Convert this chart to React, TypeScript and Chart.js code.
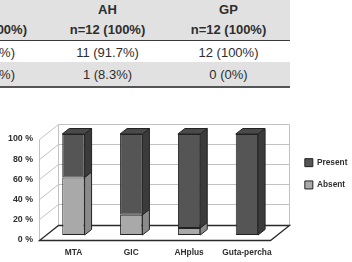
import React, { useEffect, useRef } from "react";
import { Chart, registerables } from "chart.js";

Chart.register(...registerables);

// ---- chart data ----
const categories = ["MTA", "GIC", "AHplus", "Guta-percha"];
const seriesNames = ["Absent", "Present"];
const absentValues = [57, 20, 7, 0];
const presentValues = [43, 80, 93, 100];
const yTickValues = [0, 20, 40, 60, 80, 100];
const yTickLabels = ["0 %", "20 %", "40 %", "60 %", "80 %", "100 %"];

// ---- table text ----
const tableGroups = ["AH", "GP"];
const tableTotals = ["n=12 (100%)", "n=12 (100%)"];
const tablePresentRow = ["11 (91.7%)", "12 (100%)"];
const tableAbsentRow = ["1 (8.3%)", "0 (0%)"];
const tableCutTotal = "00%)";
const tableCutRows = ["%)", "%)"];

// ---- styles ----
const FONT = "'Liberation Sans', Arial, Helvetica, sans-serif";
const TEXT = "#2e2e2e";
const faceColors = [
  { front: "#a9a9a9", side: "#8b8b8b", top: "#bdbdbd" },
  { front: "#555555", side: "#3b3b3b", top: "#4a4a4a" },
];
const WALL_DX = 19;
const WALL_DY = -15;
const FRONT_DX = -5.5;
const FRONT_DY = 4.5;
const BAR_DX = 7;
const BAR_DY = -5.5;

const threeD = {
  id: "threeD",
  beforeDatasetsDraw(chart: any) {
    const { ctx, chartArea: ca, scales } = chart;
    const y = scales.y;
    const r = (v: number) => Math.round(v) + 0.5;
    const fl = r(ca.left + FRONT_DX);
    const fr = r(ca.right + FRONT_DX);
    const yv = (v: number) => r(y.getPixelForValue(v) + FRONT_DY);
    const y0 = yv(0);
    const yTop = yv(100);
    ctx.save();
    ctx.strokeStyle = "#c2c2c2";
    ctx.lineWidth = 1;
    ctx.beginPath();
    for (const t of y.ticks) {
      if (t.value === 0) continue;
      const yy = yv(t.value);
      ctx.moveTo(fl, yy);
      ctx.lineTo(fl + WALL_DX, yy + WALL_DY);
      ctx.lineTo(fr + WALL_DX, yy + WALL_DY);
    }
    ctx.moveTo(fl, y0);
    ctx.lineTo(fl, yTop);
    ctx.moveTo(fl + WALL_DX, y0 + WALL_DY);
    ctx.lineTo(fl + WALL_DX, yTop + WALL_DY);
    ctx.moveTo(fr + WALL_DX, y0 + WALL_DY);
    ctx.lineTo(fr + WALL_DX, yTop + WALL_DY);
    ctx.stroke();
    // floor
    ctx.strokeStyle = "#2a2a2a";
    ctx.lineWidth = 1.3;
    ctx.beginPath();
    ctx.moveTo(fl, y0);
    ctx.lineTo(fr, y0);
    ctx.lineTo(fr + WALL_DX, y0 + WALL_DY);
    ctx.lineTo(fl + WALL_DX, y0 + WALL_DY);
    ctx.closePath();
    ctx.stroke();
    ctx.restore();
  },
  afterDatasetsDraw(chart: any) {
    const { ctx } = chart;
    ctx.save();
    ctx.lineWidth = 1;
    ctx.strokeStyle = "#222";
    for (let di = 0; di < chart.data.datasets.length; di++) {
      const meta = chart.getDatasetMeta(di);
      const col = faceColors[di];
      meta.data.forEach((el: any, i: number) => {
        const { x, y, base, width } = el.getProps(["x", "y", "base", "width"], true);
        if (Math.abs(base - y) < 0.5) return;
        const xl = x - width / 2;
        const xr = x + width / 2;
        ctx.beginPath();
        ctx.moveTo(xr, y);
        ctx.lineTo(xr + BAR_DX, y + BAR_DY);
        ctx.lineTo(xr + BAR_DX, base + BAR_DY);
        ctx.lineTo(xr, base);
        ctx.closePath();
        ctx.fillStyle = col.side;
        ctx.fill();
        ctx.stroke();
        let isTop = true;
        for (let dj = di + 1; dj < chart.data.datasets.length; dj++) {
          if ((chart.data.datasets[dj].data[i] as number) > 0) isTop = false;
        }
        if (isTop) {
          ctx.beginPath();
          ctx.moveTo(xl, y);
          ctx.lineTo(xl + BAR_DX, y + BAR_DY);
          ctx.lineTo(xr + BAR_DX, y + BAR_DY);
          ctx.lineTo(xr, y);
          ctx.closePath();
          ctx.fillStyle = col.top;
          ctx.fill();
          ctx.stroke();
        }
      });
    }
    ctx.restore();
  },
};

function BarChart() {
  const ref = useRef<HTMLCanvasElement | null>(null);
  useEffect(() => {
    if (!ref.current) return;
    const tickFont = { family: FONT, size: 8.4, weight: "bold" as const };
    const chart = new Chart(ref.current, {
      type: "bar",
      data: {
        labels: categories,
        datasets: [
          {
            label: seriesNames[0],
            data: absentValues,
            backgroundColor: faceColors[0].front,
            borderColor: "#222",
            borderWidth: 1,
            borderSkipped: false,
            barPercentage: 0.386,
            categoryPercentage: 1,
          },
          {
            label: seriesNames[1],
            data: presentValues,
            backgroundColor: faceColors[1].front,
            borderColor: "#222",
            borderWidth: 1,
            borderSkipped: false,
            barPercentage: 0.386,
            categoryPercentage: 1,
          },
        ],
      },
      options: {
        animation: false,
        responsive: false,
        devicePixelRatio: 1,
        layout: { padding: { top: 24, right: 3, bottom: 0, left: 0 } },
        plugins: {
          legend: {
            position: "right",
            align: "start",
            reverse: true,
            title: { display: true, text: "", font: { size: 8.75, lineHeight: 1.2 }, padding: 0 },
            labels: {
              boxWidth: 8,
              boxHeight: 8,
              padding: 14,
              color: TEXT,
              font: { family: FONT, size: 8.3, weight: "bold" },
            },
          },
          tooltip: { enabled: false },
        },
        scales: {
          x: {
            stacked: true,
            grid: { display: false, drawTicks: false },
            border: { display: false },
            ticks: { padding: 13, color: TEXT, font: tickFont },
            afterFit: (s: any) => {
              s.height = 27;
            },
          },
          y: {
            stacked: true,
            min: 0,
            max: 100,
            afterBuildTicks: (s: any) => {
              s.ticks = yTickValues.map((v) => ({ value: v }));
            },
            grid: { display: false, drawTicks: false },
            border: { display: false },
            ticks: {
              padding: 11.5,
              labelOffset: 5,
              color: TEXT,
              font: { family: FONT, size: 8.8, weight: "bold" },
              callback: (v: any) => yTickLabels[yTickValues.indexOf(Number(v))] ?? "",
            },
            afterFit: (s: any) => {
              s.width = 44.5;
            },
          },
          yR: {
            position: "right",
            display: true,
            grid: { display: false, drawTicks: false },
            border: { display: false },
            ticks: { display: false },
            afterFit: (s: any) => {
              s.width = 15;
            },
          },
        },
      } as any,
      plugins: [threeD],
    });
    return () => chart.destroy();
  }, []);
  return (
    <canvas
      ref={ref}
      width={352}
      height={152}
      style={{ position: "absolute", left: 0, top: 110, width: 352, height: 152, display: "block" }}
    />
  );
}

const cellText = (text: string, cx: number, cy: number, bold: boolean) => (
  <div
    key={text + cx + cy}
    style={{
      position: "absolute",
      left: cx - 70,
      top: cy - 8,
      width: 140,
      height: 16,
      lineHeight: "16px",
      textAlign: "center",
      fontWeight: bold ? "bold" : "normal",
      whiteSpace: "nowrap",
    }}
  >
    {text}
  </div>
);

const cutText = (text: string, right: number, cy: number, bold: boolean) => (
  <div
    key={"cut" + text + cy}
    style={{
      position: "absolute",
      left: right - 60,
      top: cy - 8,
      width: 60,
      height: 16,
      lineHeight: "16px",
      textAlign: "right",
      fontWeight: bold ? "bold" : "normal",
      whiteSpace: "nowrap",
    }}
  >
    {text}
  </div>
);

export default function App() {
  const colX = [107.5, 228.5];
  return (
    <div
      style={{
        position: "fixed",
        left: 0,
        top: 0,
        width: 352,
        height: 262,
        background: "#fff",
        overflow: "hidden",
        fontFamily: FONT,
        fontSize: 13,
        color: TEXT,
      }}
    >
      <div style={{ position: "absolute", left: 0, top: 0, width: 290, height: 40, background: "#e1e1e1" }} />
      <div style={{ position: "absolute", left: 0, top: 39.5, width: 290, height: 1.5, background: "#3a3a3a" }} />
      <div style={{ position: "absolute", left: 0, top: 62, width: 290, height: 24, background: "#e1e1e1" }} />
      <div style={{ position: "absolute", left: 0, top: 86, width: 290, height: 2, background: "#555" }} />
      {tableGroups.map((t, i) => cellText(t, colX[i], 9.5, true))}
      {tableTotals.map((t, i) => cellText(t, colX[i], 30, true))}
      {tablePresentRow.map((t, i) => cellText(t, colX[i], 53, false))}
      {tableAbsentRow.map((t, i) => cellText(t, colX[i], 74.5, false))}
      {cutText(tableCutTotal, 27, 30, true)}
      {cutText(tableCutRows[0], 15, 53, false)}
      {cutText(tableCutRows[1], 15, 74.5, false)}
      <BarChart />
    </div>
  );
}
